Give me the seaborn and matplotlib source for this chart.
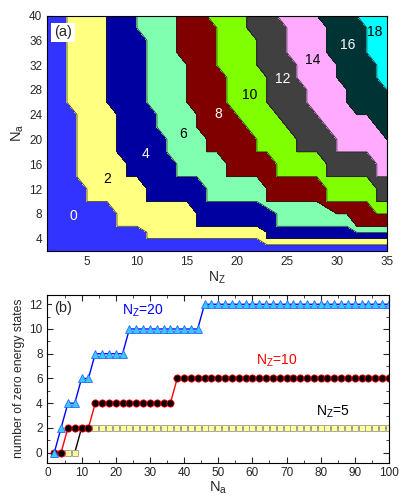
import numpy as np
import matplotlib
matplotlib.use('Agg')
import matplotlib.pyplot as plt
from matplotlib.ticker import MultipleLocator
import seaborn as sns

sns.set_style("ticks")
plt.rcParams['font.family'] = ['Liberation Sans', 'DejaVu Sans']
plt.rcParams['mathtext.default'] = 'regular'
plt.rcParams['xtick.direction'] = 'in'
plt.rcParams['ytick.direction'] = 'in'

# ---------------- (a) map: number of zero energy states over (N_Z, N_a) ----------------
nz_grid = np.arange(1, 36)
na_grid = [2, 3, 4, 5, 6, 8, 10, 12, 14, 16, 18, 20, 22, 24, 26, 28, 30, 32, 34, 36, 38, 40]

levels = [2, 4, 6, 8, 10, 12, 14, 16, 18]
N = 99  # level not reached in this column
# lowest N_a at which the count reaches the level, for N_Z = 1..35
onset_2 = [N, N, 26, 14, 10, 10, 10, 6, 6, 6,
           4, 4, 4, 4, 4, 4, 4, 4, 4, 4,
           4, 4, 3, 3, 3, 3, 3, 3, 3, 3,
           3, 3, 3, 3, 3]
onset_4 = [N, N, N, N, N, N, 26, 18, 14, 14,
           10, 10, 10, 10, 10, 6, 6, 6, 6, 6,
           6, 6, 4, 4, 4, 4, 4, 4, 4, 4,
           4, 4, 4, 4, 4]
onset_6 = [N, N, N, N, N, N, N, N, N, 38,
           26, 22, 18, 14, 14, 14, 10, 10, 10, 10,
           10, 10, 10, 6, 6, 6, 6, 6, 6, 6,
           6, 5, 5, 5, 5]
onset_8 = [N, N, N, N, N, N, N, N, N, N,
           N, N, N, 34, 26, 22, 18, 18, 14, 14,
           14, 14, 10, 10, 10, 10, 10, 10, 10, 8,
           8, 6, 6, 6, 6]
onset_10 = [N, N, N, N, N, N, N, N, N, N,
            N, N, N, N, N, N, 40, 32, 26, 24,
            22, 18, 18, 14, 14, 14, 14, 14, 10, 10,
            10, 10, 10, 8, 8]
onset_12 = [N, N, N, N, N, N, N, N, N, N,
            N, N, N, N, N, N, N, N, N, N,
            38, 32, 26, 24, 22, 18, 18, 18, 14, 14,
            14, 14, 14, 10, 10]
onset_14 = [N, N, N, N, N, N, N, N, N, N,
            N, N, N, N, N, N, N, N, N, N,
            N, N, N, 40, 34, 30, 26, 24, 22, 18,
            18, 18, 18, 14, 14]
onset_16 = [N, N, N, N, N, N, N, N, N, N,
            N, N, N, N, N, N, N, N, N, N,
            N, N, N, N, N, N, N, 40, 34, 30,
            26, 24, 24, 22, 20]
onset_18 = [N, N, N, N, N, N, N, N, N, N,
            N, N, N, N, N, N, N, N, N, N,
            N, N, N, N, N, N, N, N, N, N,
            N, 40, 34, 30, 28]
onsets = [onset_2, onset_4, onset_6, onset_8, onset_10,
          onset_12, onset_14, onset_16, onset_18]

region_colors = ['#3333FF', '#FFFF80', '#0000A0', '#80FFB0', '#800000',
                 '#80FF00', '#404040', '#FFAAFF', '#003333', '#00FFFF']

region_labels = ['0', '2', '4', '6', '8', '10', '12', '14', '16', '18']
label_nz = [3.6, 7.0, 10.8, 14.6, 18.1, 21.3, 24.6, 27.6, 31.1, 33.8]
label_na = [7.7, 13.6, 17.7, 20.9, 24.1, 27.1, 29.8, 32.9, 35.3, 37.4]
label_colors = ['white', 'black', 'white', 'black', 'white',
                'black', 'white', 'black', 'white', 'black']

# ---------------- (b) count vs N_a for three N_Z ----------------
na_b = np.arange(2, 101, 2)
states_nz5 = [0, 0, 0, 0, 2, 2, 2, 2, 2, 2,
              2, 2, 2, 2, 2, 2, 2, 2, 2, 2,
              2, 2, 2, 2, 2, 2, 2, 2, 2, 2,
              2, 2, 2, 2, 2, 2, 2, 2, 2, 2,
              2, 2, 2, 2, 2, 2, 2, 2, 2, 2]
states_nz10 = [0, 0, 2, 2, 2, 2, 4, 4, 4, 4,
               4, 4, 4, 4, 4, 4, 4, 4, 6, 6,
               6, 6, 6, 6, 6, 6, 6, 6, 6, 6,
               6, 6, 6, 6, 6, 6, 6, 6, 6, 6,
               6, 6, 6, 6, 6, 6, 6, 6, 6, 6]
states_nz20 = [0, 2, 4, 4, 6, 6, 8, 8, 8, 8,
               8, 10, 10, 10, 10, 10, 10, 10, 10, 10,
               10, 10, 12, 12, 12, 12, 12, 12, 12, 12,
               12, 12, 12, 12, 12, 12, 12, 12, 12, 12,
               12, 12, 12, 12, 12, 12, 12, 12, 12, 12]

fig = plt.figure(figsize=(4.09, 5.0), dpi=100)

# ----- panel (a)
ax1 = fig.add_axes([0.115, 0.498, 0.831, 0.471])
na_arr = np.array(na_grid)
Z = np.zeros((len(na_grid), len(nz_grid)))
for on in onsets:
    Z += 2 * (np.array(on)[None, :] <= na_arr[:, None])

bounds = [l - 0.01 for l in levels]
ax1.contourf(nz_grid, na_grid, Z, levels=[-1] + bounds + [20], colors=region_colors)
ax1.contour(nz_grid, na_grid, Z, levels=bounds, colors='#1a1a1a', linewidths=0.5)

for t, x, y, c in zip(region_labels, label_nz, label_na, label_colors):
    ax1.text(x, y, t, color=c, fontsize=10, ha='center', va='center')

ax1.set_xlim(1, 35)
ax1.set_ylim(2, 40)
ax1.set_xticks([5, 10, 15, 20, 25, 30, 35])
ax1.set_yticks([4, 8, 12, 16, 20, 24, 28, 32, 36, 40])
ax1.xaxis.set_minor_locator(MultipleLocator(1))
ax1.yaxis.set_minor_locator(MultipleLocator(2))
ax1.tick_params(which='major', length=4, width=0.8, labelsize=8.5)
ax1.tick_params(which='minor', length=2, width=0.6)
ax1.set_xlabel('N$_Z$', fontsize=10, labelpad=1)
ax1.set_ylabel('N$_a$', fontsize=10.5, labelpad=2)
ax1.text(0.047, 0.928, '(a)', transform=ax1.transAxes, fontsize=10.5,
         ha='center', va='center',
         bbox=dict(facecolor='white', edgecolor='none', pad=2))
for s in ax1.spines.values():
    s.set_linewidth(0.8)
    s.set_color('black')

# ----- panel (b)
ax2 = fig.add_axes([0.116, 0.075, 0.835, 0.335])
sns.lineplot(x=na_b, y=states_nz5, ax=ax2, color='black', linewidth=1,
             marker='s', markersize=4.8, markerfacecolor='#FFFF99',
             markeredgecolor='#9a9a9a', markeredgewidth=0.6)
sns.lineplot(x=na_b, y=states_nz10, ax=ax2, color='#FF0000', linewidth=1,
             marker='o', markersize=5.2, markerfacecolor='black',
             markeredgecolor='#FF0000', markeredgewidth=0.6)
sns.lineplot(x=na_b, y=states_nz20, ax=ax2, color='#0000FF', linewidth=1,
             marker='^', markersize=6.2, markerfacecolor='#33CCFF',
             markeredgecolor='#3366FF', markeredgewidth=0.6)

ax2.text(28, 11.5, 'N$_Z$=20', color='#0000FF', fontsize=10, ha='center', va='center')
ax2.text(67, 7.4, 'N$_Z$=10', color='#FF0000', fontsize=10, ha='center', va='center')
ax2.text(83.6, 3.3, 'N$_Z$=5', color='black', fontsize=10, ha='center', va='center')
ax2.text(0.047, 0.92, '(b)', transform=ax2.transAxes, fontsize=10.5,
         ha='center', va='center',
         bbox=dict(facecolor='white', edgecolor='none', pad=2))

ax2.set_xlim(0, 100)
ax2.set_ylim(-0.8, 12.75)
ax2.set_xticks(range(0, 101, 10))
ax2.set_yticks(range(0, 13, 2))
ax2.xaxis.set_minor_locator(MultipleLocator(5))
ax2.yaxis.set_minor_locator(MultipleLocator(1))
ax2.tick_params(which='both', top=True, right=True)
ax2.tick_params(which='major', length=4, width=0.8, labelsize=8.5)
ax2.tick_params(which='minor', length=2, width=0.6)
ax2.set_xlabel('N$_a$', fontsize=10.5, labelpad=0)
ax2.set_ylabel('number of zero energy states', fontsize=8.8, labelpad=3)
for s in ax2.spines.values():
    s.set_linewidth(0.8)
    s.set_color('black')

fig.savefig('out.png', dpi=100)
